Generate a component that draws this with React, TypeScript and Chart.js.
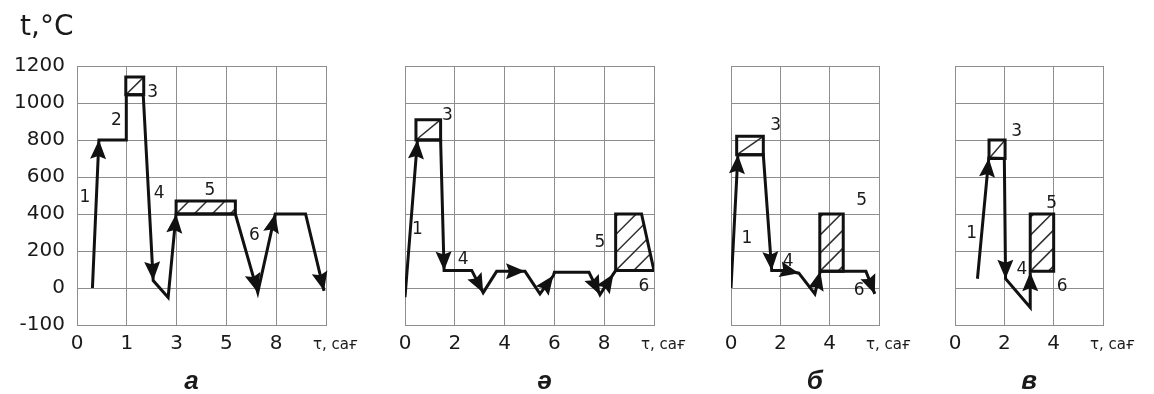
import React, { useEffect, useRef } from "react";
import { Chart, registerables } from "chart.js";

Chart.register(...registerables);

type Pt = { x: number; y: number };
type Lbl = { t: string; x: number; y: number };

// ---- axis texts ----
const tempTitle = "t,°C";
const timeUnit = "τ, сағ";
const yTickLabels = ["-100", "0", "200", "400", "600", "800", "1000", "1200"];
const xLabelsA = ["0", "1", "3", "5", "8"];
const xLabelsE = ["0", "2", "4", "6", "8"];
const xLabelsB = ["0", "2", "4"];
const xLabelsV = ["0", "2", "4"];

// ---- panel а ----
const pathA: Pt[] = [
  { x: 0.31, y: 0 }, { x: 0.44, y: 800 }, { x: 0.99, y: 800 }, { x: 0.99, y: 1045 },
  { x: 1.33, y: 1045 }, { x: 1.53, y: 40 }, { x: 1.83, y: -51 }, { x: 1.99, y: 400 },
  { x: 3.18, y: 400 }, { x: 3.63, y: -24 }, { x: 3.98, y: 400 }, { x: 4.59, y: 400 },
  { x: 4.96, y: -15 },
];
const arrowsA = [1, 5, 7, 9, 10, 12];
const zone3A: Pt[] = [{ x: 0.98, y: 1045 }, { x: 0.98, y: 1140 }, { x: 1.34, y: 1140 }, { x: 1.34, y: 1045 }];
const zone5A: Pt[] = [{ x: 1.99, y: 400 }, { x: 1.99, y: 470 }, { x: 3.18, y: 470 }, { x: 3.18, y: 400 }];
const labelsA: Lbl[] = [
  { t: "1", x: 0.16, y: 489 }, { t: "2", x: 0.79, y: 906 }, { t: "3", x: 1.52, y: 1055 },
  { t: "4", x: 1.65, y: 510 }, { t: "5", x: 2.67, y: 527 }, { t: "6", x: 3.56, y: 283 },
];

// ---- panel ә ----
const pathE: Pt[] = [
  { x: 0, y: -50 }, { x: 0.5, y: 800 }, { x: 1.43, y: 800 }, { x: 1.57, y: 95 },
  { x: 2.68, y: 95 }, { x: 3.14, y: -25 }, { x: 3.68, y: 90 }, { x: 4.82, y: 90 },
  { x: 5.42, y: -32 }, { x: 5.96, y: 67 }, { x: 6.0, y: 85 }, { x: 7.39, y: 85 },
  { x: 7.83, y: -36 }, { x: 8.37, y: 76 }, { x: 8.46, y: 94 },
];
const arrowsE = [1, 3, 5, 7, 9, 12, 13];
const zone3E: Pt[] = [{ x: 0.44, y: 800 }, { x: 0.44, y: 910 }, { x: 1.43, y: 910 }, { x: 1.43, y: 800 }];
const zone5E: Pt[] = [{ x: 8.46, y: 94 }, { x: 8.46, y: 400 }, { x: 9.5, y: 400 }, { x: 10, y: 94 }];
const labelsE: Lbl[] = [
  { t: "1", x: 0.5, y: 314 }, { t: "3", x: 1.7, y: 933 }, { t: "4", x: 2.34, y: 152 },
  { t: "5", x: 7.83, y: 247 }, { t: "6", x: 9.59, y: 7 },
];

// ---- panel б ----
const pathB: Pt[] = [
  { x: 0, y: 0 }, { x: 0.28, y: 720 }, { x: 1.31, y: 720 }, { x: 1.65, y: 94 },
  { x: 2.26, y: 94 }, { x: 2.75, y: 80 }, { x: 3.4, y: -32 }, { x: 3.62, y: 90 },
  { x: 4.55, y: 90 }, { x: 5.47, y: 90 }, { x: 5.83, y: -32 },
];
const arrowsB = [1, 3, 5, 7, 10];
const zone3B: Pt[] = [{ x: 0.23, y: 720 }, { x: 0.23, y: 820 }, { x: 1.31, y: 820 }, { x: 1.31, y: 720 }];
const zone5B: Pt[] = [{ x: 3.6, y: 90 }, { x: 3.6, y: 400 }, { x: 4.55, y: 400 }, { x: 4.55, y: 90 }];
const labelsB: Lbl[] = [
  { t: "1", x: 0.64, y: 265 }, { t: "3", x: 1.81, y: 879 }, { t: "4", x: 2.32, y: 144 },
  { t: "5", x: 5.3, y: 473 }, { t: "6", x: 5.2, y: -15 },
];

// ---- panel в ----
const pathV: Pt[] = [
  { x: 0.91, y: 50 }, { x: 1.37, y: 702 }, { x: 2.0, y: 700 }, { x: 2.05, y: 50 },
  { x: 3.05, y: -105 }, { x: 3.05, y: 85 },
];
const arrowsV = [1, 3, 5];
const zone3V: Pt[] = [{ x: 1.38, y: 700 }, { x: 1.38, y: 800 }, { x: 2.03, y: 800 }, { x: 2.03, y: 700 }];
const zone5V: Pt[] = [{ x: 3.05, y: 90 }, { x: 3.05, y: 400 }, { x: 4.0, y: 400 }, { x: 4.0, y: 90 }];
const labelsV: Lbl[] = [
  { t: "1", x: 0.68, y: 292 }, { t: "3", x: 2.5, y: 843 }, { t: "4", x: 2.71, y: 100 },
  { t: "5", x: 3.92, y: 455 }, { t: "6", x: 4.34, y: 10 },
];

type Panel = {
  key: string;
  title: string;
  titleX: number;
  left: number;
  w: number;
  yWidth: number;
  padLeft: number;
  padRight: number;
  xMax: number;
  xStep: number;
  xLabels: string[];
  path: Pt[];
  arrows: number[];
  diagZone: Pt[];
  hatchZone: Pt[];
  labels: Lbl[];
  showY: boolean;
};

const panels: Panel[] = [
  { key: "a", title: "а", titleX: 2.3, left: 0, w: 370, yWidth: 77, padLeft: 0, padRight: 44, xMax: 5, xStep: 1, xLabels: xLabelsA, path: pathA, arrows: arrowsA, diagZone: zone3A, hatchZone: zone5A, labels: labelsA, showY: true },
  { key: "e", title: "ә", titleX: 5.6, left: 370, w: 330, yWidth: 0, padLeft: 35, padRight: 46, xMax: 10, xStep: 2, xLabels: xLabelsE, path: pathE, arrows: arrowsE, diagZone: zone3E, hatchZone: zone5E, labels: labelsE, showY: false },
  { key: "b", title: "б", titleX: 3.4, left: 700, w: 230, yWidth: 0, padLeft: 31, padRight: 51, xMax: 6, xStep: 2, xLabels: xLabelsB, path: pathB, arrows: arrowsB, diagZone: zone3B, hatchZone: zone5B, labels: labelsB, showY: false },
  { key: "v", title: "в", titleX: 3.0, left: 930, w: 224, yWidth: 0, padLeft: 25, padRight: 51, xMax: 6, xStep: 2, xLabels: xLabelsV, path: pathV, arrows: arrowsV, diagZone: zone3V, hatchZone: zone5V, labels: labelsV, showY: false },
];

const INK = "#111111";
const GRID = "#8e8e8e";
const TEXT = "#1a1a1a";

function PanelChart({ p }: { p: Panel }) {
  const ref = useRef<HTMLCanvasElement>(null);
  useEffect(() => {
    const canvas = ref.current;
    if (!canvas) return;
    const plugin = {
      id: "decor_" + p.key,
      beforeDatasetsDraw(chart: any) {
        const ctx = chart.ctx as CanvasRenderingContext2D;
        const xs = chart.scales.x, ys = chart.scales.y;
        // hatch zone
        const pts = p.hatchZone.map((q) => [xs.getPixelForValue(q.x), ys.getPixelForValue(q.y)]);
        let minX = Infinity, maxX = -Infinity, minY = Infinity, maxY = -Infinity;
        pts.forEach(([a, b]) => { minX = Math.min(minX, a); maxX = Math.max(maxX, a); minY = Math.min(minY, b); maxY = Math.max(maxY, b); });
        ctx.save();
        ctx.beginPath();
        pts.forEach(([a, b], i) => (i ? ctx.lineTo(a, b) : ctx.moveTo(a, b)));
        ctx.closePath();
        ctx.clip();
        ctx.strokeStyle = "#2e2e2e";
        ctx.lineWidth = 1.5;
        const gap = 18;
        const c0 = minX + maxY;
        for (let k = -20; k <= 20; k++) {
          const c = c0 + k * gap;
          if (c < minX + minY - 1 || c > maxX + maxY + 1) continue;
          ctx.beginPath();
          ctx.moveTo(c - maxY, maxY);
          ctx.lineTo(c - minY, minY);
          ctx.stroke();
        }
        ctx.restore();
        // diagonal zone
        const d = p.diagZone.map((q) => [xs.getPixelForValue(q.x), ys.getPixelForValue(q.y)]);
        const dx0 = Math.min(...d.map((v) => v[0])), dx1 = Math.max(...d.map((v) => v[0]));
        const dy0 = Math.min(...d.map((v) => v[1])), dy1 = Math.max(...d.map((v) => v[1]));
        ctx.save();
        ctx.strokeStyle = "#2e2e2e";
        ctx.lineWidth = 1.5;
        ctx.beginPath();
        ctx.moveTo(dx0, dy1);
        ctx.lineTo(dx1, dy0);
        ctx.stroke();
        ctx.restore();
      },
      afterDatasetsDraw(chart: any) {
        const ctx = chart.ctx as CanvasRenderingContext2D;
        const xs = chart.scales.x, ys = chart.scales.y;
        // arrows
        ctx.save();
        ctx.fillStyle = INK;
        p.arrows.forEach((i) => {
          const a = p.path[i - 1], b = p.path[i];
          const ax = xs.getPixelForValue(a.x), ay = ys.getPixelForValue(a.y);
          const bx = xs.getPixelForValue(b.x), by = ys.getPixelForValue(b.y);
          const len = Math.hypot(bx - ax, by - ay) || 1;
          const ux = (bx - ax) / len, uy = (by - ay) / len;
          const L = 19, W = 8;
          const cx = bx - ux * L, cy = by - uy * L;
          ctx.beginPath();
          ctx.moveTo(bx, by);
          ctx.lineTo(cx - uy * W, cy + ux * W);
          ctx.lineTo(bx - ux * (L - 3), by - uy * (L - 3));
          ctx.lineTo(cx + uy * W, cy - ux * W);
          ctx.closePath();
          ctx.fill();
        });
        ctx.restore();
        // labels
        ctx.save();
        ctx.fillStyle = TEXT;
        ctx.font = '17px "DejaVu Sans"';
        ctx.textAlign = "center";
        ctx.textBaseline = "middle";
        p.labels.forEach((l) => ctx.fillText(l.t, xs.getPixelForValue(l.x), ys.getPixelForValue(l.y)));
        ctx.restore();
      },
      afterDraw(chart: any) {
        const ctx = chart.ctx as CanvasRenderingContext2D;
        const xs = chart.scales.x;
        ctx.save();
        ctx.fillStyle = TEXT;
        ctx.font = '15px "DejaVu Sans"';
        ctx.textAlign = "left";
        ctx.textBaseline = "middle";
        ctx.fillText(timeUnit, xs.getPixelForValue(p.xMax) - 13, 345);
        ctx.font = 'italic bold 26px "Liberation Sans"';
        ctx.textAlign = "center";
        ctx.textBaseline = "alphabetic";
        ctx.fillText(p.title, xs.getPixelForValue(p.titleX), 389);
        if (p.showY) {
          ctx.font = '28px "DejaVu Sans"';
          ctx.textAlign = "left";
          ctx.fillText(tempTitle, 20, 35);
        }
        ctx.restore();
      },
    };

    const lineStyle = {
      borderColor: INK,
      backgroundColor: INK,
      borderWidth: 3,
      showLine: true,
      pointRadius: 0,
      pointHoverRadius: 0,
      fill: false,
      tension: 0,
      borderJoinStyle: "miter" as const,
    };
    const chart = new Chart(canvas, {
      type: "scatter",
      data: {
        datasets: [
          { ...lineStyle, data: [...p.diagZone, p.diagZone[0]], borderCapStyle: "square" as const },
          { ...lineStyle, data: [...p.hatchZone, p.hatchZone[0]], borderCapStyle: "square" as const },
          { ...lineStyle, data: p.path, borderCapStyle: "butt" as const },
        ],
      },
      options: {
        responsive: false,
        animation: false,
        events: [],
        devicePixelRatio: 1,
        layout: { padding: { left: p.padLeft, right: p.padRight, top: 66, bottom: 0 } },
        plugins: { legend: { display: false }, tooltip: { enabled: false } },
        scales: {
          x: {
            type: "linear",
            min: 0,
            max: p.xMax,
            afterFit: (s: any) => { s.height = 69; },
            ticks: {
              stepSize: p.xStep,
              autoSkip: false,
              maxRotation: 0,
              padding: 7,
              color: TEXT,
              font: { family: '"DejaVu Sans"', size: 20 },
              callback: (v: any) => p.xLabels[Math.round(Number(v) / p.xStep)] ?? "",
            },
            grid: { color: GRID, lineWidth: 1, drawTicks: false },
            border: { color: GRID, width: 1 },
          },
          y: {
            type: "linear",
            min: -200,
            max: 1200,
            afterFit: (s: any) => { s.width = p.yWidth; },
            ticks: {
              display: p.showY,
              stepSize: 200,
              padding: 12,
              color: TEXT,
              font: { family: '"DejaVu Sans"', size: 20 },
              callback: (v: any) => yTickLabels[Math.round((Number(v) + 200) / 200)] ?? "",
            },
            grid: { color: GRID, lineWidth: 1, drawTicks: false },
            border: { color: GRID, width: 1 },
          },
        },
      },
      plugins: [plugin],
    } as any);
    return () => chart.destroy();
  }, [p]);
  return (
    <canvas
      ref={ref}
      width={p.w}
      height={394}
      style={{ position: "absolute", left: p.left, top: 0, width: p.w, height: 394 }}
    />
  );
}

export default function App() {
  return (
    <div style={{ position: "absolute", left: 0, top: 0, width: 1154, height: 394, background: "#fff", overflow: "hidden" }}>
      {panels.map((p) => (
        <PanelChart key={p.key} p={p} />
      ))}
    </div>
  );
}
